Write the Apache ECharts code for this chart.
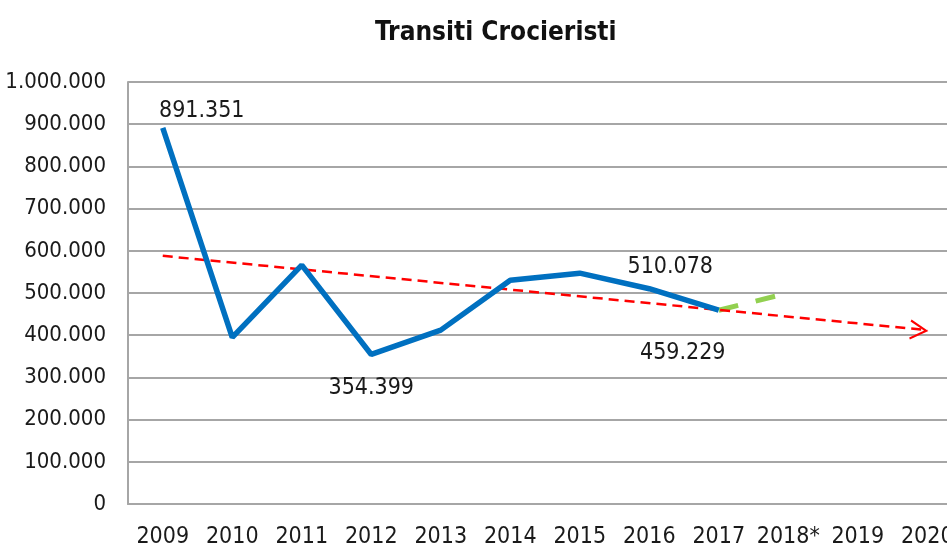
<!DOCTYPE html>
<html>
<head>
<meta charset="utf-8">
<script src="https://cdn.jsdelivr.net/npm/echarts@6/dist/echarts.min.js"></script>
<style>
  html, body { margin: 0; padding: 0; background: #fff; }
  #chart { width: 947px; height: 550px; }
</style>
</head>
<body>
<div id="chart"></div>
<script>
// data
var years = ['2009', '2010', '2011', '2012', '2013', '2014', '2015', '2016', '2017', '2018*', '2019', '2020']
var transiti = [891351, 395000, 566000, 354399, 412000, 530000, 547000, 510078, 459229, null, null, null]
var previsione = [null, null, null, null, null, null, null, null, 459229, 500000, null, null]
var tendenza = [588000, null, null, null, null, null, null, null, null, null, null, 412000]
// which points carry a value label, and where
var labelled = {0: 'top', 3: 'bottom', 7: 'top', 8: 'bottom'}
var labelOffset = {0: [39, 0], 3: [0, 17], 7: [21, -5], 8: [-36, 26]}

var font = '"Liberation Sans Narrow", "DejaVu Sans Condensed", sans-serif'

function dots (v) {
  return String(v).replace(/\B(?=(\d{3})+(?!\d))/g, '.')
}

var blueData = transiti.map(function (v, i) {
  if (labelled[i] === undefined) return v
  return {
    value: v,
    label: {
      show: true,
      position: labelled[i],
      offset: labelOffset[i],
      formatter: function (p) { return dots(p.value) },
      color: '#1a1a1a',
      fontSize: 23,
      fontFamily: font
    }
  }
})

var trendData = tendenza.map(function (v, i) {
  if (i !== tendenza.length - 1) return {value: v, symbol: 'none'}
  return {value: v, symbol: 'path://M0,0 L10,5 L0,10', symbolSize: [16, 18], symbolOffset: [-9, 0], symbolRotate: -5}
})

var chart = echarts.init(document.getElementById('chart'))
chart.setOption({
  animation: false,
  title: {
    text: 'Transiti Crocieristi',
    left: 370,
    top: 15,
    textStyle: {fontFamily: font, fontWeight: 'bold', fontSize: 26, color: '#111'}
  },
  grid: {left: 128, top: 82, width: 834, bottom: 46, containLabel: false, outerBoundsMode: 'none'},
  xAxis: {
    type: 'category',
    data: years,
    boundaryGap: true,
    axisTick: {show: false},
    axisLine: {lineStyle: {color: '#a6a6a6', width: 2}},
    axisLabel: {color: '#1a1a1a', fontSize: 23, fontFamily: font, margin: 22, interval: 0}
  },
  yAxis: {
    type: 'value',
    min: 0,
    max: 1000000,
    interval: 100000,
    axisLine: {show: true, lineStyle: {color: '#a6a6a6', width: 2}},
    axisTick: {show: false},
    splitLine: {lineStyle: {color: '#a6a6a6', width: 2}},
    axisLabel: {
      color: '#1a1a1a',
      fontSize: 22,
      fontFamily: font,
      margin: 22,
      formatter: function (v) { return dots(v) }
    }
  },
  series: [
    {
      name: 'tendenza',
      type: 'line',
      data: trendData,
      connectNulls: true,
      showSymbol: true,
      lineStyle: {color: '#ff0000', width: 2.5, type: [10, 6]},
      itemStyle: {color: 'rgba(0,0,0,0)', borderColor: '#ff0000', borderWidth: 2},
      z: 3
    },
    {
      name: 'previsione',
      type: 'line',
      data: previsione,
      symbol: 'none',
      lineStyle: {color: '#92d050', width: 5, type: [20, 18]},
      z: 2
    },
    {
      name: 'transiti',
      type: 'line',
      data: blueData,
      symbol: 'circle',
      symbolSize: 0,
      showSymbol: true,
      lineStyle: {color: '#0070c0', width: 5.5},
      itemStyle: {color: '#0070c0'},
      z: 4
    }
  ]
})
</script>
</body>
</html>
